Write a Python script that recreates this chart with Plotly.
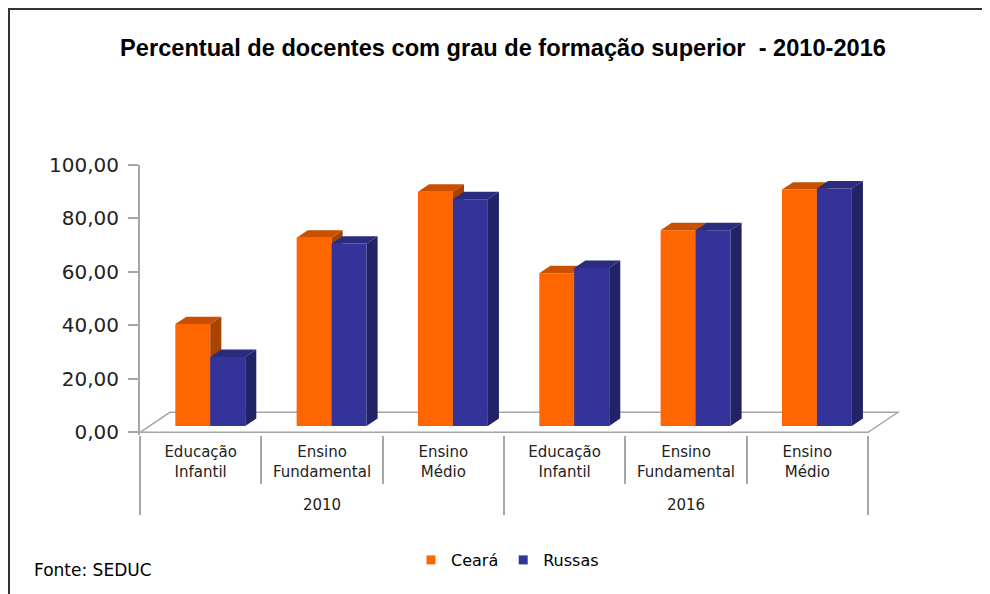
import plotly.graph_objects as go

# ---------------- data ----------------
years = ["<br>2010", "<br>2010", "<br>2010", "<br>2016", "<br>2016", "<br>2016"]
categories = ["Educação<br>Infantil", "Ensino<br>Fundamental", "Ensino<br>Médio",
              "Educação<br>Infantil", "Ensino<br>Fundamental", "Ensino<br>Médio"]
ceara = [38.1, 70.4, 87.6, 57.1, 73.2, 88.4]
russas = [25.8, 68.2, 84.8, 59.1, 73.2, 88.8]
series_names = ["Ceará", "Russas"]
y_ticks = [0, 20, 40, 60, 80, 100]

# ---------------- 3D look constants ----------------
N = len(categories)
FLOOR_DX, FLOOR_DY = 0.247, 7.5      # depth of the floor (x units, value units)
FRONT_T, DEPTH_T = 0.32, 0.37        # bar front position / bar depth as fraction of floor depth
BAR_W = 0.288
BASE = FRONT_T * FLOOR_DY
SHIFT = FRONT_T * FLOOR_DX
DDX, DDY = DEPTH_T * FLOOR_DX, DEPTH_T * FLOOR_DY
XR = [0, 6.264]

colors = {
    "Ceará": ("#FF6600", "#C85000", "#A84300"),
    "Russas": ("#333399", "#2B2B80", "#222266"),
}

fig = go.Figure()


def add_series(name, vals, offset, xaxis):
    front, top, side = colors[name]
    centers = [i + 0.5 + SHIFT + offset for i in range(N)]
    fig.add_trace(go.Bar(x=centers, y=vals, base=BASE, width=BAR_W, name=name,
                         marker=dict(color=front, line=dict(width=0)),
                         xaxis=xaxis, yaxis="y", showlegend=False, hoverinfo="skip"))
    tx, ty, sx, sy = [], [], [], []
    for c, v in zip(centers, vals):
        xl, xr = c - BAR_W / 2, c + BAR_W / 2
        yt = BASE + v
        tx += [xl, xr, xr + DDX, xl + DDX, xl, None]
        ty += [yt, yt, yt + DDY, yt + DDY, yt, None]
        sx += [xr, xr, xr + DDX, xr + DDX, xr, None]
        sy += [BASE, yt, yt + DDY, BASE + DDY, BASE, None]
    fig.add_trace(go.Scatter(x=tx, y=ty, mode="none", fill="toself", fillcolor=top,
                             xaxis=xaxis, yaxis="y", showlegend=False, hoverinfo="skip"))
    fig.add_trace(go.Scatter(x=sx, y=sy, mode="none", fill="toself", fillcolor=side,
                             xaxis=xaxis, yaxis="y", showlegend=False, hoverinfo="skip"))


add_series("Ceará", ceara, -BAR_W / 2, "x")
add_series("Russas", russas, BAR_W / 2, "x3")

# multicategory axis carrier
fig.add_trace(go.Scatter(x=[years, categories], y=ceara, mode="markers",
                         marker=dict(opacity=0), xaxis="x2", yaxis="y",
                         showlegend=False, hoverinfo="skip"))

# legend entries
for name in series_names:
    fig.add_trace(go.Scatter(x=[None], y=[None], mode="markers", name=name,
                             marker=dict(symbol="square", size=9, color=colors[name][0])))

grey = "#A6A6A6"
floor_path = (f"M 0,0 L {N},0 L {N + FLOOR_DX},{FLOOR_DY} "
              f"L {FLOOR_DX},{FLOOR_DY} Z")

# page body has an 8px margin -> plot area placed at 132..892 x 157..427 inside the figure
PL, PT, PW, PH = 132, 157, 760, 270


def px(xp):
    return (xp - PL) / PW


def py(yp):
    return (PT + PH - yp) / PH


fig.update_layout(
    width=990, height=594,
    margin=dict(l=PL, r=990 - PL - PW, t=PT, b=594 - PT - PH),
    paper_bgcolor="white", plot_bgcolor="white",
    separators=",.",
    title=dict(text="Percentual de docentes com grau de formação superior\u00a0 - 2010-2016",
               x=495 / 990, xref="container", xanchor="center",
               y=1 - 40 / 594, yref="container", yanchor="middle",
               font=dict(family="Liberation Sans", size=23.6, color="black", weight="bold")),
    xaxis=dict(range=XR, showgrid=False, zeroline=False, showline=False,
               tickvals=list(range(N + 1)), ticks="outside", ticklen=48,
               tickcolor=grey, tickwidth=1.5, showticklabels=False),
    xaxis2=dict(type="multicategory", overlaying="x", anchor="y", side="bottom",
                range=[-0.5, XR[1] - 0.5], showgrid=False, zeroline=False,
                showline=False, ticks="", showdividers=True, dividercolor=grey,
                dividerwidth=1.5, ticklabelstandoff=6,
                tickfont=dict(family="DejaVu Sans", size=15, color="#222222")),
    xaxis3=dict(overlaying="x", anchor="y", range=XR, visible=False),
    yaxis=dict(range=[-1, 100], tickvals=y_ticks, tickformat=".2f", ticks="outside",
               ticklen=10, tickcolor=grey, tickwidth=1.5, showline=True,
               linecolor=grey, linewidth=2, showgrid=False, zeroline=False,
               ticklabelstandoff=5,
               tickfont=dict(family="DejaVu Sans", size=20, color="#222222")),
    legend=dict(orientation="h", x=px(403), xanchor="left", y=py(552), yanchor="middle",
                font=dict(family="DejaVu Sans", size=16, color="black"),
                itemwidth=30, bgcolor="rgba(0,0,0,0)"),
    shapes=[
        dict(type="path", path=floor_path, xref="x", yref="y",
             line=dict(color=grey, width=1.5), layer="below"),
        dict(type="line", xref="paper", yref="paper", x0=px(0), x1=px(1000),
             y0=py(1), y1=py(1), line=dict(color="#333333", width=2)),
        dict(type="line", xref="paper", yref="paper", x0=px(1), x1=px(1),
             y0=py(1), y1=py(600), line=dict(color="#333333", width=2)),
    ],
    annotations=[
        dict(text="Fonte: SEDUC", xref="paper", yref="paper",
             x=px(24), y=py(562), xanchor="left", yanchor="middle",
             showarrow=False, font=dict(family="DejaVu Sans", size=17, color="black")),
    ],
)

fig.write_html("out.html")
